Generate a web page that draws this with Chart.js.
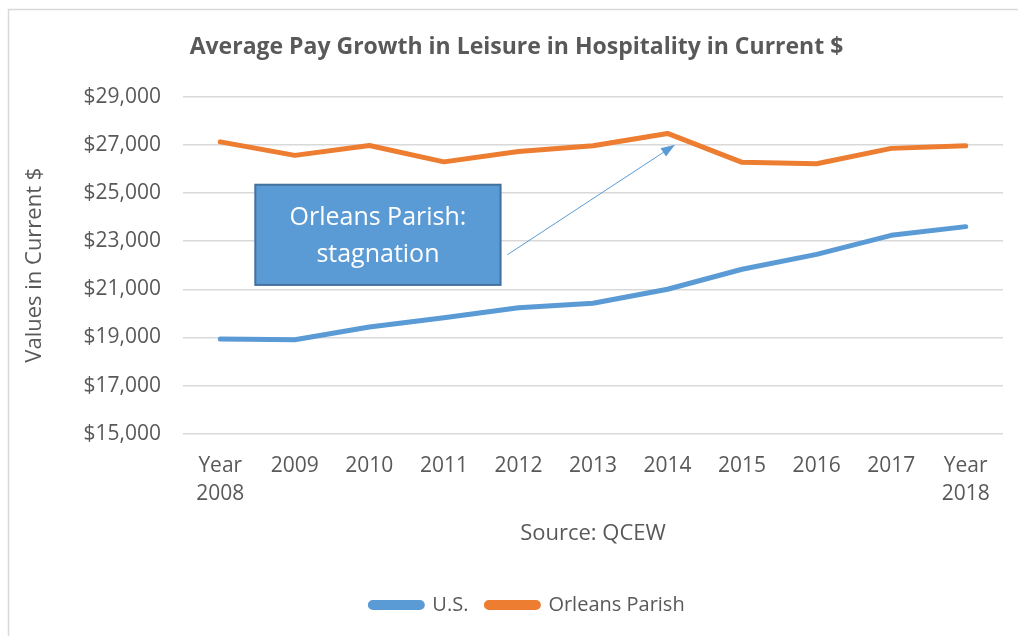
<!DOCTYPE html>
<html>
<head>
<meta charset="utf-8">
<script src="https://cdn.jsdelivr.net/npm/chart.js@4/dist/chart.umd.min.js"></script>
<style>
  html, body { margin: 0; padding: 0; background: #fff; }
  #wrap { position: relative; width: 1018px; height: 636px; }
</style>
</head>
<body>
<div id="wrap"><canvas id="chart"></canvas></div>
<script>
// Données
const years = [['Year', '2008'], '2009', '2010', '2011', '2012', '2013', '2014', '2015', '2016', '2017', ['Year', '2018']];
const usPay = [18930, 18900, 19430, 19820, 20230, 20420, 21000, 21830, 22450, 23240, 23600];
const orleansPay = [27120, 26560, 26970, 26290, 26720, 26960, 27470, 26270, 26210, 26850, 26960];

const TEXT_GREY = '#595959';
const BLUE = '#5B9BD5';
const ORANGE = '#ED7D31';
const FONT = "'Open Sans', sans-serif";

Chart.defaults.font.family = FONT;
Chart.defaults.color = TEXT_GREY;

// Cadre gris autour du graphique + titre/légende décalés comme dans Excel
const framePlugin = {
  id: 'frame',
  afterLayout(chart) {
    chart.legend.left += 20;
    chart.legend.right += 20;
    chart.titleBlock.left += 9;
    chart.titleBlock.right += 9;
  },
  beforeDraw(chart) {
    const ctx = chart.ctx;
    ctx.save();
    ctx.strokeStyle = '#d9d9d9';
    ctx.lineWidth = 1.5;
    ctx.strokeRect(8.5, 9.5, 1030, 650);
    ctx.restore();
  }
};

// Encadré "Orleans Parish: stagnation" + flèche vers 2014
const calloutPlugin = {
  id: 'callout',
  afterDatasetsDraw(chart) {
    const { ctx, scales: { x, y } } = chart;
    const left = x.getPixelForValue(0.47);
    const right = x.getPixelForValue(3.76);
    const top = y.getPixelForValue(25340);
    const bottom = y.getPixelForValue(21180);

    ctx.save();
    // flèche
    const x0 = x.getPixelForValue(3.85), y0 = y.getPixelForValue(22430);
    const x1 = x.getPixelForValue(6.1), y1 = y.getPixelForValue(27000);
    const ang = Math.atan2(y1 - y0, x1 - x0);
    ctx.strokeStyle = BLUE;
    ctx.fillStyle = BLUE;
    ctx.lineWidth = 1;
    ctx.beginPath();
    ctx.moveTo(x0, y0);
    ctx.lineTo(x1 - 10 * Math.cos(ang), y1 - 10 * Math.sin(ang));
    ctx.stroke();
    ctx.beginPath();
    ctx.moveTo(x1, y1);
    ctx.lineTo(x1 - 14 * Math.cos(ang) + 5 * Math.sin(ang), y1 - 14 * Math.sin(ang) - 5 * Math.cos(ang));
    ctx.lineTo(x1 - 14 * Math.cos(ang) - 5 * Math.sin(ang), y1 - 14 * Math.sin(ang) + 5 * Math.cos(ang));
    ctx.closePath();
    ctx.fill();

    // boîte
    ctx.fillStyle = BLUE;
    ctx.fillRect(left, top, right - left, bottom - top);
    ctx.strokeStyle = '#41719C';
    ctx.lineWidth = 2;
    ctx.strokeRect(left, top, right - left, bottom - top);

    ctx.fillStyle = '#ffffff';
    ctx.font = `25px ${FONT}`;
    ctx.textAlign = 'center';
    ctx.textBaseline = 'middle';
    const cx = (left + right) / 2;
    const cy = (top + bottom) / 2;
    ctx.fillText('Orleans Parish:', cx, cy - 17);
    ctx.fillText('stagnation', cx, cy + 20);
    ctx.restore();
  }
};

new Chart(document.getElementById('chart'), {
  type: 'line',
  data: {
    labels: years,
    datasets: [
      {
        label: 'U.S.',
        data: usPay,
        borderColor: BLUE,
        backgroundColor: BLUE,
        borderWidth: 5,
        pointRadius: 0,
        borderCapStyle: 'round',
        borderJoinStyle: 'round',
        tension: 0,
      },
      {
        label: 'Orleans Parish',
        data: orleansPay,
        borderColor: ORANGE,
        backgroundColor: ORANGE,
        borderWidth: 5,
        pointRadius: 0,
        borderCapStyle: 'round',
        borderJoinStyle: 'round',
        tension: 0,
      },
    ],
  },
  options: {
    responsive: true,
    maintainAspectRatio: false,
    animation: false,
    layout: {
      padding: { left: 12, right: 15, top: 10, bottom: 11 },
    },
    plugins: {
      title: {
        display: true,
        text: 'Average Pay Growth in Leisure in Hospitality in Current $',
        color: TEXT_GREY,
        font: { size: 23, weight: 'bold' },
        padding: { top: 24, bottom: 35 },
      },
      legend: {
        position: 'bottom',
        labels: {
          color: TEXT_GREY,
          font: { size: 20 },
          boxWidth: 52,
          boxHeight: 5,
          useBorderRadius: true,
          borderRadius: 2.5,
          padding: 18,
        },
      },
      tooltip: { enabled: false },
    },
    scales: {
      x: {
        offset: true,
        grid: { display: false },
        border: { display: false },
        ticks: {
          color: TEXT_GREY,
          font: { size: 21, lineHeight: 1.33 },
          maxRotation: 0,
          autoSkip: false,
          padding: 10,
        },
        title: {
          display: true,
          text: 'Source: QCEW',
          color: TEXT_GREY,
          font: { size: 22 },
          padding: { top: 3, bottom: 30 },
        },
      },
      y: {
        min: 15000,
        max: 29000,
        grid: { color: '#d9d9d9', lineWidth: 1.5, drawTicks: false },
        border: { display: false },
        ticks: {
          stepSize: 2000,
          color: TEXT_GREY,
          font: { size: 21 },
          padding: 22,
          callback: v => '$' + v.toLocaleString('en-US'),
        },
        title: {
          display: true,
          text: 'Values in Current $',
          color: TEXT_GREY,
          font: { size: 22 },
          padding: { top: 10, bottom: 4 },
        },
        afterFit: scale => { scale.width = 171; },
      },
    },
  },
  plugins: [framePlugin, calloutPlugin],
});
</script>
</body>
</html>
